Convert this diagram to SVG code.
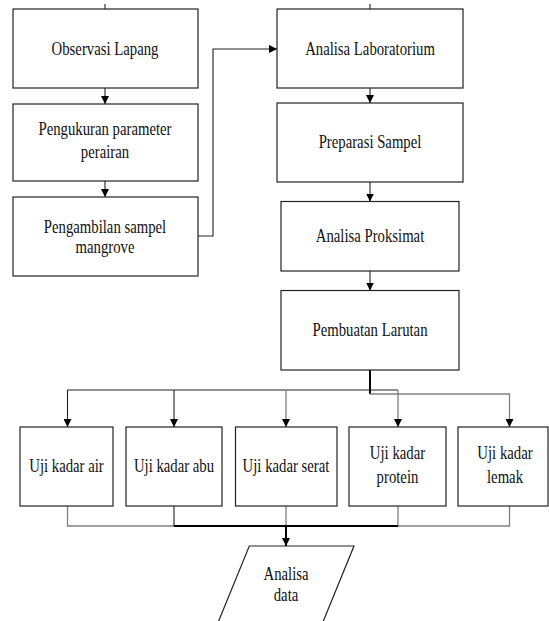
<svg xmlns="http://www.w3.org/2000/svg" width="549" height="621" viewBox="0 0 549 621">
<style>
.box{fill:#fff;stroke:#222;stroke-width:1.2}
.t{font-family:"Liberation Serif","Times New Roman",serif;font-size:18px;fill:#111;text-anchor:middle}
.ln{fill:none;stroke:#222;stroke-width:1.1}
.gr{fill:none;stroke:#808080;stroke-width:1.3}
.bk{fill:none;stroke:#000;stroke-width:2}
</style>
<defs>
<marker id="ah" viewBox="0 0 10 10" refX="10" refY="5" markerWidth="8" markerHeight="8" markerUnits="userSpaceOnUse" orient="auto">
<path d="M0,0 L10,5 L0,10 Z" fill="#000"/>
</marker>
</defs>
<rect width="549" height="621" fill="#fff"/>
<g id="connectors">
<line class="ln" x1="105" y1="4" x2="105" y2="9"/>
<line class="ln" x1="370" y1="4" x2="370" y2="9"/>
<line class="ln" x1="105" y1="88" x2="105" y2="104" marker-end="url(#ah)"/>
<line class="ln" x1="105" y1="181" x2="105" y2="197" marker-end="url(#ah)"/>
<polyline class="ln" points="198,236 213,236 213,49 277,49" marker-end="url(#ah)"/>
<line class="ln" x1="370" y1="88" x2="370" y2="103" marker-end="url(#ah)"/>
<line class="ln" x1="370" y1="182" x2="370" y2="201.5" marker-end="url(#ah)"/>
<line class="ln" x1="370" y1="271" x2="370" y2="290.5" marker-end="url(#ah)"/>
<line class="bk" x1="370" y1="370" x2="370" y2="394"/>
<line class="ln" x1="67.5" y1="390" x2="398" y2="390"/>
<polyline class="gr" points="370,394 509.5,394 509.5,427" marker-end="url(#ah)"/>
<line class="ln" x1="67.5" y1="390" x2="67.5" y2="427" marker-end="url(#ah)"/>
<line class="ln" x1="174" y1="390" x2="174" y2="427" marker-end="url(#ah)"/>
<line class="gr" x1="286" y1="390" x2="286" y2="427" marker-end="url(#ah)"/>
<line class="gr" x1="398" y1="390" x2="398" y2="427" marker-end="url(#ah)"/>
<polyline class="gr" points="67.5,506 67.5,526 174,526"/>
<polyline class="gr" points="398,526 509.5,526 509.5,506"/>
<line class="ln" x1="174" y1="506" x2="174" y2="526"/>
<line class="gr" x1="286" y1="506" x2="286" y2="526"/>
<line class="gr" x1="398" y1="506" x2="398" y2="526"/>
<line class="bk" x1="174" y1="526" x2="398" y2="526"/>
<line class="bk" x1="286" y1="526" x2="286" y2="546" marker-end="url(#ah)"/>
</g>
<g id="observasi"><rect class="box" x="13" y="9" width="185" height="79"/><text class="t" transform="translate(105 55) scale(0.82 1)">Observasi Lapang</text></g>
<g id="pengukuran"><rect class="box" x="13" y="104" width="185" height="77"/><text class="t" transform="translate(105 135) scale(0.82 1)">Pengukuran parameter</text><text class="t" transform="translate(105 158) scale(0.82 1)">perairan</text></g>
<g id="pengambilan"><rect class="box" x="13" y="197" width="185" height="79"/><text class="t" transform="translate(105 233) scale(0.82 1)">Pengambilan sampel</text><text class="t" transform="translate(105 253) scale(0.82 1)">mangrove</text></g>
<g id="laboratorium"><rect class="box" x="277" y="9" width="186" height="79"/><text class="t" transform="translate(370 55) scale(0.82 1)">Analisa Laboratorium</text></g>
<g id="preparasi"><rect class="box" x="277" y="103" width="186" height="79"/><text class="t" transform="translate(370 148) scale(0.82 1)">Preparasi Sampel</text></g>
<g id="proksimat"><rect class="box" x="281" y="201.5" width="178" height="69.5"/><text class="t" transform="translate(370 242) scale(0.82 1)">Analisa Proksimat</text></g>
<g id="larutan"><rect class="box" x="281" y="290.5" width="178" height="79.5"/><text class="t" transform="translate(370 336) scale(0.82 1)">Pembuatan Larutan</text></g>
<g id="air"><rect class="box" x="20" y="427" width="93" height="79"/><text class="t" transform="translate(66.5 472) scale(0.82 1)">Uji kadar air</text></g>
<g id="abu"><rect class="box" x="126" y="427" width="96" height="79"/><text class="t" transform="translate(174 472) scale(0.82 1)">Uji kadar abu</text></g>
<g id="serat"><rect class="box" x="235.5" y="427" width="101.5" height="79"/><text class="t" transform="translate(286 472) scale(0.82 1)">Uji kadar serat</text></g>
<g id="protein"><rect class="box" x="349" y="427" width="97" height="79"/><text class="t" transform="translate(397.5 459) scale(0.82 1)">Uji kadar</text><text class="t" transform="translate(397.5 483) scale(0.82 1)">protein</text></g>
<g id="lemak"><rect class="box" x="458" y="427" width="90" height="79"/><text class="t" transform="translate(505 459) scale(0.82 1)">Uji kadar</text><text class="t" transform="translate(505 483) scale(0.82 1)">lemak</text></g>
<g id="analisa-data"><polygon class="box" points="249.3,546 354,546 315.6,640 210.9,640"/><text class="t" transform="translate(286 580) scale(0.82 1)">Analisa</text><text class="t" transform="translate(286 601) scale(0.82 1)">data</text></g>
</svg>
